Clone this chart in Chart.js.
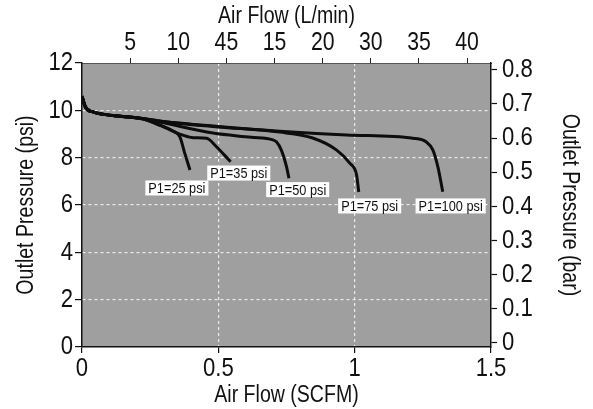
<!DOCTYPE html>
<html><head><meta charset="utf-8">
<script src="https://cdn.jsdelivr.net/npm/chart.js@4.4.1/dist/chart.umd.min.js"></script>
<style>html,body{margin:0;padding:0;background:#fff;}canvas{display:block;}</style>
</head><body>
<canvas id="c" width="593" height="409"></canvas>
<script>
const FONT = "'Liberation Sans', Arial, sans-serif";
const NARROW = 0.85; // horizontal text compression to imitate a condensed face

// Axis ticks
const psiTicks = [0, 2, 4, 6, 8, 10, 12];
const barTicks = [0, 0.1, 0.2, 0.3, 0.4, 0.5, 0.6, 0.7, 0.8];
const scfmTicks = [0, 0.5, 1, 1.5];
const lpmTickValues = [5, 10, 15, 20, 25, 30, 35, 40];
const lpmTickLabels = ['5', '10', '45', '15', '20', '30', '35', '40'];

// Series (Air Flow in SCFM, Outlet Pressure in psi)
const seriesNames = ['P1=25 psi', 'P1=35 psi', 'P1=50 psi', 'P1=75 psi', 'P1=100 psi'];
const flow25 = [0, 0.012, 0.04, 0.075, 0.13, 0.22, 0.29, 0.334, 0.359, 0.377, 0.396];
const psi25  = [10.6, 10.15, 9.93, 9.84, 9.76, 9.64, 9.35, 9.12, 8.88, 8.18, 7.48];
const flow35 = [0, 0.012, 0.04, 0.075, 0.13, 0.22, 0.29, 0.334, 0.37, 0.408, 0.457, 0.493, 0.545];
const psi35  = [10.6, 10.15, 9.93, 9.84, 9.76, 9.64, 9.35, 9.12, 8.95, 8.84, 8.82, 8.46, 7.83];
const flow50 = [0, 0.012, 0.04, 0.075, 0.13, 0.22, 0.3, 0.48, 0.62, 0.7, 0.713, 0.731, 0.75, 0.759];
const psi50  = [10.6, 10.15, 9.93, 9.84, 9.76, 9.66, 9.47, 9.04, 8.86, 8.75, 8.67, 8.32, 7.62, 7.13];
const flow75 = [0, 0.012, 0.04, 0.075, 0.13, 0.22, 0.3, 0.5, 0.725, 0.846, 0.934, 0.982, 1.007, 1.015];
const psi75  = [10.6, 10.15, 9.93, 9.84, 9.76, 9.66, 9.52, 9.3, 9.08, 8.83, 8.32, 7.77, 7.27, 6.55];
const flow100 = [0, 0.012, 0.04, 0.075, 0.13, 0.22, 0.3, 0.5, 0.725, 0.97, 1.214, 1.262, 1.287, 1.305, 1.323];
const psi100  = [10.6, 10.15, 9.93, 9.84, 9.76, 9.66, 9.53, 9.32, 9.12, 8.96, 8.82, 8.67, 8.32, 7.62, 6.56];

// Label anchors (data units: SCFM, psi)
const labelFlow = [0.348, 0.575, 0.791, 1.055, 1.352];
const labelPsi  = [6.72, 7.35, 6.65, 5.96, 5.96];

const flows = [flow25, flow35, flow50, flow75, flow100];
const psis = [psi25, psi35, psi50, psi75, psi100];

const datasets = seriesNames.map((name, i) => ({
  label: name,
  data: flows[i].map((x, j) => ({x: x, y: psis[i][j]})),
  borderColor: '#0d0d0d',
  borderWidth: 3,
  pointRadius: 0,
  fill: false,
  cubicInterpolationMode: 'monotone',
  xAxisID: 'x',
  yAxisID: 'y'
}));

const canvas = document.getElementById('c');
const ctx2d = canvas.getContext('2d');
const origFillText = ctx2d.fillText;
ctx2d.fillText = function (text, x, y) {
  this.save();
  this.translate(x, y);
  this.scale(NARROW, 1);
  origFillText.call(this, text, 0, 0);
  this.restore();
};

const bgPlugin = {
  id: 'bg',
  beforeDraw(chart) {
    const {ctx, chartArea: a} = chart;
    ctx.save();
    ctx.fillStyle = '#9f9f9f';
    ctx.fillRect(a.left, a.top, a.right - a.left, a.bottom - a.top);
    ctx.restore();
  }
};

const labelPlugin = {
  id: 'curveLabels',
  afterDatasetsDraw(chart) {
    const {ctx, scales} = chart;
    ctx.save();
    ctx.font = '15px ' + FONT;
    ctx.textAlign = 'center';
    ctx.textBaseline = 'middle';
    seriesNames.forEach((t, i) => {
      const px = scales.x.getPixelForValue(labelFlow[i]);
      const py = scales.y.getPixelForValue(labelPsi[i]);
      const w = ctx.measureText(t).width * NARROW + 6;
      const h = 15;
      ctx.fillStyle = '#ffffff';
      ctx.fillRect(px - w / 2, py - h / 2, w, h);
      ctx.fillStyle = '#111';
      ctx.fillText(t, px, py + 1);
    });
    ctx.restore();
  }
};

const gridWhite = 'rgba(255,255,255,0.8)';

new Chart(canvas, {
  type: 'line',
  data: {datasets},
  plugins: [bgPlugin, labelPlugin],
  options: {
    responsive: false,
    animation: false,
    layout: {padding: 0},
    plugins: {legend: {display: false}, tooltip: {enabled: false}},
    scales: {
      x: {
        type: 'linear', position: 'bottom', min: 0, max: 1.5,
        afterBuildTicks: s => { s.ticks = scfmTicks.map(v => ({value: v})); },
        afterFit: s => { s.height = 62; },
        ticks: {color: '#111', font: {family: FONT, size: 26}, padding: 0, maxRotation: 0,
                callback: v => String(v)},
        grid: {color: c => (c.tick && (c.tick.value === 0.5 || c.tick.value === 1)) ? gridWhite : 'rgba(0,0,0,0)',
               lineWidth: 1.2, tickColor: '#111', tickLength: 6, tickWidth: 1.2},
        border: {color: '#111', width: 1.5, dash: [3, 3]},
        title: {display: true, text: 'Air Flow (SCFM)', color: '#111', font: {family: FONT, size: 23}, padding: {bottom: 0, top: 0}}
      },
      x2: {
        type: 'linear', position: 'top', min: 0, max: 42.48,
        afterBuildTicks: s => { s.ticks = lpmTickValues.map(v => ({value: v})); },
        afterFit: s => { s.height = 63; },
        ticks: {color: '#111', font: {family: FONT, size: 25}, padding: 0, maxRotation: 0, autoSkip: false,
                callback: (v, i) => lpmTickLabels[i]},
        grid: {drawOnChartArea: false, tickColor: '#222', tickLength: 5, tickWidth: 1},
        border: {color: '#555', width: 1},
        title: {display: true, text: 'Air Flow (L/min)', color: '#111', font: {family: FONT, size: 23}, padding: {top: 3, bottom: 0}}
      },
      y: {
        type: 'linear', position: 'left', min: 0, max: 12,
        afterBuildTicks: s => { s.ticks = psiTicks.map(v => ({value: v})); },
        afterFit: s => { s.width = 82; },
        ticks: {color: '#111', font: {family: FONT, size: 26}, padding: 2, callback: v => String(v)},
        grid: {color: c => (c.tick && c.tick.value > 0 && c.tick.value < 12) ? gridWhite : 'rgba(0,0,0,0)',
               lineWidth: 1.2, tickColor: '#111', tickLength: 7, tickWidth: 1.2},
        border: {color: '#111', width: 1.5, dash: [3, 3]},
        title: {display: true, text: 'Outlet Pressure (psi)', color: '#111', font: {family: FONT, size: 23}, padding: {top: 13, bottom: 0}}
      },
      y2: {
        type: 'linear', position: 'right', min: -0.012, max: 0.82,
        afterBuildTicks: s => { s.ticks = barTicks.map(v => ({value: v})); },
        afterFit: s => { s.width = 102; },
        ticks: {color: '#111', font: {family: FONT, size: 26}, padding: 5,
                callback: v => (v === 0 ? '0' : v.toFixed(1))},
        grid: {drawOnChartArea: false, tickColor: '#111', tickLength: 6, tickWidth: 1.2},
        border: {color: '#111', width: 1.5},
        title: {display: true, text: 'Outlet Pressure (bar)', color: '#111', font: {family: FONT, size: 23}, padding: {top: 10, bottom: 0}}
      }
    }
  }
});
</script>
</body></html>
